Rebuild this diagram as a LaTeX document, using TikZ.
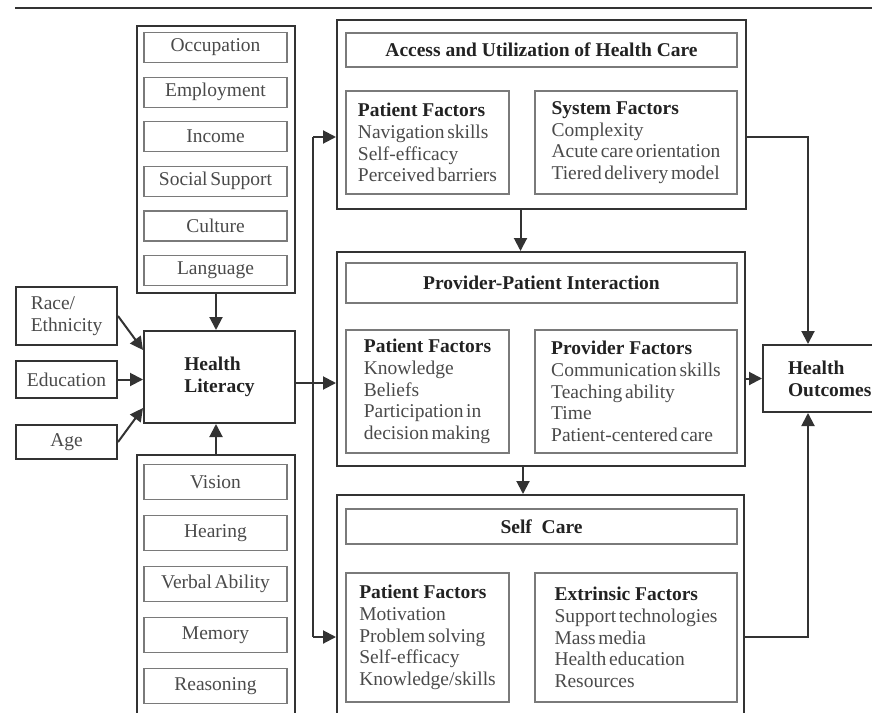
\documentclass[tikz,border=0pt]{standalone}
\usepackage{fontspec}
\setmainfont{Liberation Serif}[WordSpace=0.55]
\newfontfamily\headfont{Liberation Serif}
\usetikzlibrary{arrows.meta}

\definecolor{linedark}{HTML}{333333}
\definecolor{linelight}{HTML}{7A7A7A}
\definecolor{textgray}{HTML}{4A4A4A}
\definecolor{headdark}{HTML}{222222}
\newcommand{\fachead}[1]{{\headfont\color{headdark}\bfseries #1}}

\begin{document}
\begin{tikzpicture}[
  x=1pt, y=-1pt,
  >={Triangle[length=13pt,width=13pt]},
  every node/.style={font=\fontsize{19.5}{21.7}\selectfont, text=textgray},
  frame/.style={draw=linedark, line width=2pt, inner sep=0pt},
  sidebox/.style={frame, minimum width=101pt},
  itembox/.style={draw=linelight, line width=1.2pt, minimum width=143pt, inner sep=0pt},
  titlebox/.style={draw=linelight, line width=1.2pt, minimum width=391pt, inner sep=0pt,
    font=\fontsize{19.5}{21.7}\selectfont\headfont\bfseries, text=headdark},
  factorbox/.style={draw=linelight, line width=1.2pt, align=left, inner sep=0pt},
  boldtext/.style={font=\fontsize{19.5}{22}\selectfont\headfont\bfseries, text=headdark, align=left},
  link/.style={->, draw=linedark, line width=2pt}
]
  \useasboundingbox (0,0) rectangle (872,712);
  \clip (0,0) rectangle (872,712);

  \draw[linedark, line width=2.2pt] (15,8) -- (880,8);

  % social and ability columns
  \node[frame, minimum width=158pt, minimum height=267pt] (social) at (216,159.5) {};
  \foreach \lbl [count=\i from 0] in {Occupation, Employment, Income, Social Support, Culture, Language}
    \node[itembox, minimum height=30pt] (soc\i) at (215.5,{47.5+44.6*\i}) {\lbl};

  \node[frame, minimum width=158pt, minimum height=285pt] (ability) at (216,597.5) {};
  \foreach \lbl [count=\i from 0] in {Vision, Hearing, Verbal Ability, Memory, Reasoning}
    \node[itembox, minimum height=35pt] (abl\i) at (215.5,{482+51*\i}) {\lbl};

  % left inputs
  \node[sidebox, minimum height=58pt, align=left] (race) at (66.5,316) {Race/\\Ethnicity};
  \node[sidebox, minimum height=37pt] (edu) at (66.5,379.5) {Education};
  \node[sidebox, minimum height=34pt] (age) at (66.5,442) {Age};

  \node[frame, boldtext, minimum width=151pt, minimum height=92pt] (hl) at (219.5,377) {Health\\Literacy};

  % access and utilization
  \node[frame, minimum width=409pt, minimum height=189pt] (access) at (541.5,114.5) {};
  \node[titlebox, minimum height=34pt] (accesstitle) at (541.5,50) {Access and Utilization of Health Care};
  \node[factorbox, minimum width=163pt, minimum height=103pt] (accesspat) at (427.5,142.5)
    {\fachead{Patient Factors}\\Navigation skills\\Self-efficacy\\Perceived barriers};
  \node[factorbox, minimum width=202pt, minimum height=103pt] (accesssys) at (636,142.5)
    {\fachead{System Factors}\\Complexity\\Acute care orientation\\Tiered delivery model};

  % provider-patient interaction
  \node[frame, minimum width=408pt, minimum height=214pt] (prov) at (541,359) {};
  \node[titlebox, minimum height=40pt] (provtitle) at (541.5,283) {Provider-Patient Interaction};
  \node[factorbox, minimum width=163pt, minimum height=123pt] (provpat) at (427.5,391.5)
    {\fachead{Patient Factors}\\Knowledge\\Beliefs\\Participation in\\decision making};
  \node[factorbox, minimum width=202pt, minimum height=123pt] (provprov) at (636,391.5)
    {\fachead{Provider Factors}\\Communication skills\\Teaching ability\\Time\\Patient-centered care};

  % self care
  \node[frame, minimum width=407pt, minimum height=245pt] (self) at (540.5,617.5) {};
  \node[titlebox, minimum height=35pt] (selftitle) at (541.5,526.5) {Self\ \ Care};
  \node[factorbox, minimum width=163pt, minimum height=129pt] (selfpat) at (427.5,637.5)
    {\fachead{Patient Factors}\\Motivation\\Problem solving\\Self-efficacy\\Knowledge/skills};
  \node[factorbox, minimum width=202pt, minimum height=129pt] (selfext) at (636,637.5)
    {\fachead{Extrinsic Factors}\\Support technologies\\Mass media\\Health education\\Resources};

  % outcome
  \node[frame, boldtext, text width=84pt, inner xsep=25pt, minimum height=67pt] (outcome) at (830,378.5) {Health\\Outcomes};

  % connectors
  \coordinate (forkup) at (313,137);
  \coordinate (forkdown) at (313,637);

  \draw[link] (social.south) -- (social.south |- hl.north);
  \draw[link] (ability.north) -- (ability.north |- hl.south);
  \draw[link] (race.east) -- ([yshift=27pt]hl.west);
  \draw[link] (edu.east) -- (edu.east -| hl.west);
  \draw[link] (age.east) -- ([yshift=-31pt]hl.west);

  \draw[link] ([yshift=-6pt]hl.east) -- ([yshift=-6pt]hl.east -| prov.west);
  \draw[linedark, line width=2pt] (forkup) -- (forkdown);
  \draw[link] (forkup) -- (forkup -| access.west);
  \draw[link] (forkdown) -- (forkdown -| self.west);

  \draw[link] ([xshift=-21pt]access.south) -- ([xshift=-21pt]access.south |- prov.north);
  \draw[link] ([xshift=-18pt]prov.south) -- ([xshift=-18pt]prov.south |- self.north);

  \draw[link] (forkup -| access.east) -| ([xshift=-22pt]outcome.north);
  \draw[link] (forkdown -| self.east) -| ([xshift=-22pt]outcome.south);
  \draw[link] (outcome.west -| prov.east) -- (outcome.west);
\end{tikzpicture}
\end{document}
